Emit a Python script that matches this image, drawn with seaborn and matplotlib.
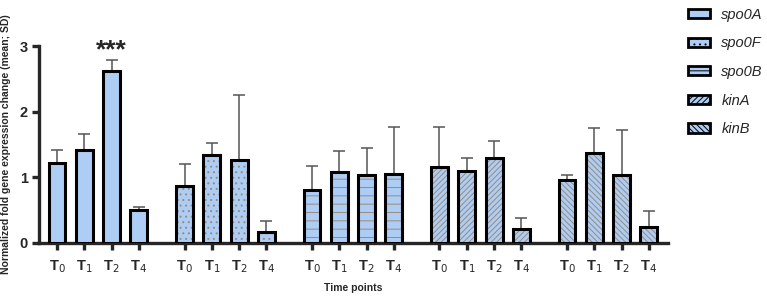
import numpy as np
import pandas as pd
import matplotlib
matplotlib.use("Agg")
import matplotlib.pyplot as plt
from matplotlib.patches import Patch
import seaborn as sns

genes = ["spo0A", "spo0F", "spo0B", "kinA", "kinB"]
timepoints = ["T$_0$", "T$_1$", "T$_2$", "T$_4$"]
spo0A = [1.22, 1.41, 2.62, 0.50]
spo0A_sd = [0.20, 0.25, 0.16, 0.05]
spo0F = [0.87, 1.34, 1.27, 0.17]
spo0F_sd = [0.34, 0.18, 0.98, 0.16]
spo0B = [0.81, 1.08, 1.03, 1.05]
spo0B_sd = [0.37, 0.32, 0.41, 0.72]
kinA = [1.15, 1.09, 1.29, 0.22]
kinA_sd = [0.61, 0.20, 0.26, 0.16]
kinB = [0.96, 1.37, 1.03, 0.25]
kinB_sd = [0.07, 0.38, 0.69, 0.24]

means = [spo0A, spo0F, spo0B, kinA, kinB]
sds = [spo0A_sd, spo0F_sd, spo0B_sd, kinA_sd, kinB_sd]
hatches = ["", "...", "--", "//////", "\\\\\\\\\\\\"]
fill = "#aecdf4"
hatch_col = "#9a8a7a"
group_step = 4.67

rows = []
for g, gene in enumerate(genes):
    for i, tp in enumerate(timepoints):
        rows.append(dict(gene=gene, tp=tp, pos=g * group_step + i,
                         mean=means[g][i], sd=sds[g][i], gi=g))
df = pd.DataFrame(rows)

sns.set_style("ticks")
plt.rcParams["font.family"] = ["Liberation Sans", "DejaVu Sans"]
plt.rcParams["hatch.linewidth"] = 0.7
plt.rcParams["hatch.color"] = hatch_col

fig = plt.figure(figsize=(7.67, 2.96), dpi=100)
ax = fig.add_axes([39 / 767, 1 - 243 / 296, (668 - 39) / 767, (243 - 46) / 296])

# filled, hatched layer (hatch takes the edge colour)
sns.barplot(data=df, x="pos", y="mean", native_scale=True, width=0.62,
            color=fill, saturation=1, errorbar=None, ax=ax,
            edgecolor=hatch_col, linewidth=0, zorder=3)
lookup = {round(r.pos, 3): r.gi for r in df.itertuples()}
for p in list(ax.patches):
    c = round(p.get_x() + p.get_width() / 2, 3)
    key = min(lookup, key=lambda k: abs(k - c))
    h = hatches[lookup[key]]
    p.set_facecolor(fill)
    p.set_edgecolor(hatch_col)
    p.set_linewidth(0)
    if h:
        p.set_hatch(h)

# black outline layer
sns.barplot(data=df, x="pos", y="mean", native_scale=True, width=0.62,
            color="black", fill=False, errorbar=None, ax=ax,
            linewidth=2.2, zorder=4)

ax.errorbar(df["pos"], df["mean"], yerr=[np.zeros(len(df)), df["sd"]],
            fmt="none", ecolor="#555555", elinewidth=1.1, capsize=4,
            capthick=1.1, zorder=2)

ax.set_xlim(-0.66, 22.38)
ax.set_ylim(0, 3)
ax.set_yticks([0, 1, 2, 3])
ax.set_yticklabels(["0", "1", "2", "3"], fontsize=10.5, fontweight="bold")
ax.set_xticks(df["pos"])
ax.set_xticklabels(list(df["tp"]), fontsize=10.5, fontweight="bold")
ax.tick_params(axis="x", direction="out", length=5, width=2.4, pad=6)
ax.tick_params(axis="y", direction="out", length=5, width=2.4, pad=3)
for s in ["left", "bottom"]:
    ax.spines[s].set_linewidth(2.4)
sns.despine(ax=ax)
ax.set_xlabel("Time points", fontsize=7.5, fontweight="bold", labelpad=6)
ax.set_ylabel("Normalized fold gene expression change (mean; SD)",
              fontsize=7.5, fontweight="bold")
ax.yaxis.set_label_coords(-0.044, 0.5)

ax.text(2, 2.93, "***", ha="center", va="center", fontsize=19,
        fontweight="bold")

handles = []
for g, gene in enumerate(genes):
    hp = Patch(facecolor=fill, edgecolor="black", linewidth=2.0,
               hatch=hatches[g] if hatches[g] else None)
    handles.append(hp)
leg = fig.legend(handles, genes, loc="upper left",
                 bbox_to_anchor=(682 / 767, 1 - 2 / 296), frameon=False,
                 prop={"style": "italic", "size": 10.5},
                 handlelength=1.5, handleheight=0.6, labelspacing=1.0,
                 handletextpad=0.8, borderaxespad=0)
for hp in leg.legend_handles:
    hp.set_edgecolor("black")

fig.savefig("out.png", dpi=100)
